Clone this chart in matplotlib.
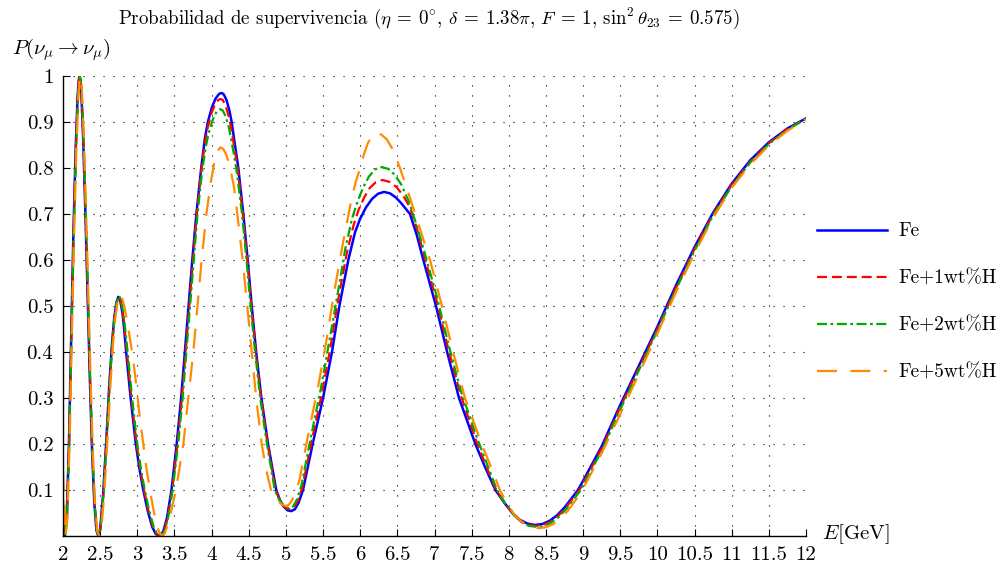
import matplotlib
matplotlib.use("Agg")
import matplotlib.pyplot as plt
import numpy as np

plt.rcParams["font.family"] = ["cmr10", "DejaVu Serif"]
plt.rcParams["mathtext.fontset"] = "cm"
plt.rcParams["axes.formatter.use_mathtext"] = True

# survival probability curves, energy in GeV
e_fe = [2.00, 2.025, 2.05, 2.08, 2.11, 2.14, 2.17, 2.195, 2.208, 2.22, 2.232, 2.245, 2.27, 2.30, 2.33,
        2.36, 2.39, 2.42, 2.45, 2.475, 2.50, 2.54, 2.58, 2.62, 2.66, 2.69, 2.72, 2.745, 2.77, 2.80,
        2.82, 2.85, 2.88, 2.91, 2.945, 2.98, 3.03, 3.08, 3.14, 3.20, 3.25, 3.30, 3.35, 3.40, 3.46,
        3.53, 3.59, 3.64, 3.69, 3.74, 3.795, 3.86, 3.91, 3.95, 4.00, 4.05, 4.10, 4.13, 4.16, 4.20,
        4.24, 4.27, 4.31, 4.36, 4.427, 4.486, 4.54, 4.60, 4.67, 4.76, 4.87, 4.92, 4.97, 5.02, 5.07,
        5.12, 5.17, 5.23, 5.36, 5.50, 5.62, 5.72, 5.84, 5.93, 6.00, 6.08, 6.16, 6.24, 6.32, 6.40,
        6.48, 6.56, 6.67, 6.76, 6.85, 7.02, 7.17, 7.33, 7.55, 7.68, 7.82, 7.95, 8.05, 8.15, 8.25,
        8.35, 8.45, 8.55, 8.65, 8.75, 8.85, 8.93, 9.00, 9.25, 9.50, 9.75, 10.0, 10.25, 10.5, 10.75,
        11.0, 11.25, 11.5, 11.75, 12.0]
p_fe = [0.04, 0.0, 0.04, 0.20, 0.43, 0.66, 0.84, 0.95, 0.985, 1.0, 0.993, 0.97, 0.87, 0.71, 0.53,
        0.35, 0.19, 0.075, 0.012, 0.0, 0.015, 0.09, 0.20, 0.32, 0.42, 0.475, 0.508, 0.52, 0.512, 0.485,
        0.455, 0.40, 0.35, 0.30, 0.25, 0.20, 0.145, 0.10, 0.055, 0.02, 0.004, 0.0, 0.01, 0.04, 0.10,
        0.20, 0.30, 0.40, 0.50, 0.60, 0.70, 0.80, 0.865, 0.90, 0.93, 0.95, 0.961, 0.963, 0.961, 0.948,
        0.925, 0.90, 0.855, 0.80, 0.70, 0.60, 0.50, 0.40, 0.30, 0.20, 0.10, 0.078, 0.064, 0.056, 0.054,
        0.058, 0.072, 0.10, 0.20, 0.30, 0.40, 0.50, 0.60, 0.66, 0.69, 0.715, 0.733, 0.744, 0.748, 0.745,
        0.736, 0.722, 0.70, 0.655, 0.60, 0.50, 0.40, 0.30, 0.20, 0.15, 0.10, 0.07, 0.05, 0.035, 0.027,
        0.024, 0.026, 0.033, 0.045, 0.062, 0.083, 0.10, 0.12, 0.195, 0.285, 0.37, 0.455, 0.545, 0.628, 0.703,
        0.766, 0.817, 0.856, 0.886, 0.908]

e_h1 = [2.00, 2.028, 2.053, 2.083, 2.113, 2.143, 2.173, 2.198, 2.211, 2.223, 2.235, 2.248, 2.273, 2.303,
        2.333, 2.363, 2.393, 2.423, 2.453, 2.478, 2.503, 2.543, 2.583, 2.623, 2.663, 2.693, 2.723, 2.75,
        2.775, 2.805, 2.825, 2.86, 2.89, 2.92, 2.955, 2.99, 3.04, 3.09, 3.15, 3.21, 3.26, 3.31, 3.36,
        3.41, 3.47, 3.54, 3.60, 3.65, 3.70, 3.75, 3.80, 3.86, 3.91, 3.95, 4.00, 4.05, 4.09, 4.12, 4.15,
        4.19, 4.23, 4.26, 4.30, 4.35, 4.42, 4.48, 4.535, 4.595, 4.665, 4.755, 4.86, 4.91, 4.96, 5.01,
        5.06, 5.11, 5.16, 5.22, 5.345, 5.485, 5.60, 5.70, 5.82, 5.91, 5.98, 6.06, 6.13, 6.21, 6.30,
        6.39, 6.48, 6.57, 6.67, 6.76, 6.86, 7.03, 7.18, 7.345, 7.565, 7.70, 7.83, 7.96, 8.06, 8.16,
        8.26, 8.36, 8.46, 8.56, 8.66, 8.76, 8.86, 8.95, 9.00, 9.25, 9.50, 9.75, 10.0, 10.25, 10.5,
        10.75, 11.0, 11.25, 11.5, 11.75, 12.0]
p_h1 = [0.06, 0.0, 0.04, 0.21, 0.44, 0.66, 0.84, 0.95, 0.985, 1.0, 0.993, 0.97, 0.87, 0.71,
        0.53, 0.35, 0.19, 0.075, 0.012, 0.0, 0.015, 0.09, 0.20, 0.32, 0.42, 0.475, 0.509, 0.521,
        0.513, 0.486, 0.458, 0.40, 0.35, 0.30, 0.25, 0.20, 0.145, 0.10, 0.055, 0.02, 0.004, 0.0, 0.01,
        0.04, 0.10, 0.20, 0.30, 0.40, 0.50, 0.60, 0.70, 0.795, 0.855, 0.89, 0.92, 0.94, 0.948, 0.95, 0.948,
        0.935, 0.912, 0.89, 0.85, 0.80, 0.70, 0.60, 0.50, 0.40, 0.30, 0.20, 0.10, 0.08, 0.066, 0.06,
        0.058, 0.062, 0.076, 0.105, 0.205, 0.31, 0.41, 0.51, 0.615, 0.675, 0.71, 0.738, 0.757, 0.769, 0.774,
        0.77, 0.76, 0.742, 0.715, 0.67, 0.61, 0.51, 0.41, 0.31, 0.205, 0.15, 0.10, 0.068, 0.047, 0.032,
        0.025, 0.022, 0.024, 0.031, 0.043, 0.06, 0.081, 0.10, 0.115, 0.19, 0.28, 0.365, 0.45, 0.54, 0.624,
        0.70, 0.763, 0.814, 0.854, 0.885, 0.907]

e_h2 = [2.00, 2.03, 2.055, 2.085, 2.115, 2.145, 2.175, 2.20, 2.213, 2.225, 2.237, 2.25, 2.275, 2.305,
        2.335, 2.365, 2.395, 2.425, 2.455, 2.48, 2.505, 2.545, 2.585, 2.625, 2.665, 2.695, 2.725, 2.755,
        2.78, 2.81, 2.83, 2.87, 2.90, 2.93, 2.965, 3.00, 3.05, 3.10, 3.16, 3.22, 3.27, 3.315, 3.365,
        3.415, 3.475, 3.55, 3.61, 3.66, 3.71, 3.76, 3.81, 3.87, 3.92, 3.96, 4.00, 4.04, 4.08, 4.115,
        4.15, 4.19, 4.23, 4.26, 4.30, 4.34, 4.41, 4.47, 4.525, 4.585, 4.655, 4.745, 4.85, 4.90, 4.95,
        5.00, 5.05, 5.10, 5.15, 5.21, 5.33, 5.47, 5.58, 5.69, 5.80, 5.89, 5.96, 6.04, 6.12, 6.20,
        6.29, 6.38, 6.46, 6.55, 6.66, 6.76, 6.86, 7.04, 7.19, 7.355, 7.58, 7.71, 7.84, 7.97, 8.07,
        8.17, 8.27, 8.37, 8.47, 8.57, 8.67, 8.77, 8.87, 8.97, 9.00, 9.25, 9.50, 9.75, 10.0, 10.25,
        10.5, 10.75, 11.0, 11.25, 11.5, 11.75, 12.0]
p_h2 = [0.08, 0.0, 0.04, 0.21, 0.44, 0.66, 0.84, 0.95, 0.985, 1.0, 0.993, 0.97, 0.87, 0.71,
        0.53, 0.35, 0.19, 0.075, 0.012, 0.0, 0.015, 0.09, 0.20, 0.32, 0.42, 0.475, 0.51, 0.522,
        0.514, 0.487, 0.46, 0.40, 0.35, 0.30, 0.25, 0.20, 0.145, 0.10, 0.055, 0.02, 0.004, 0.0, 0.01,
        0.04, 0.10, 0.20, 0.30, 0.40, 0.50, 0.60, 0.70, 0.79, 0.845, 0.875, 0.898, 0.915, 0.925, 0.928,
        0.925, 0.912, 0.89, 0.865, 0.83, 0.79, 0.70, 0.60, 0.50, 0.40, 0.30, 0.20, 0.10, 0.082, 0.069,
        0.062, 0.06, 0.065, 0.08, 0.11, 0.21, 0.32, 0.42, 0.52, 0.625, 0.69, 0.725, 0.758, 0.782, 0.797,
        0.802, 0.798, 0.786, 0.765, 0.725, 0.675, 0.62, 0.515, 0.415, 0.315, 0.21, 0.155, 0.10, 0.066, 0.045,
        0.03, 0.022, 0.02, 0.022, 0.029, 0.041, 0.058, 0.079, 0.10, 0.11, 0.185, 0.275, 0.36, 0.447, 0.536,
        0.62, 0.697, 0.76, 0.812, 0.852, 0.883, 0.907]

e_h5 = [2.00, 2.035, 2.06, 2.09, 2.12, 2.15, 2.18, 2.205, 2.218, 2.23, 2.242, 2.255, 2.28, 2.31, 2.34,
        2.37, 2.40, 2.43, 2.46, 2.49, 2.515, 2.555, 2.595, 2.635, 2.675, 2.705, 2.735, 2.77, 2.80, 2.83,
        2.87, 2.93, 2.97, 3.005, 3.04, 3.08, 3.12, 3.17, 3.22, 3.27, 3.30, 3.34, 3.37, 3.40, 3.45,
        3.52, 3.62, 3.686, 3.754, 3.81, 3.866, 3.93, 3.99, 4.04, 4.08, 4.12, 4.16, 4.20, 4.25, 4.30,
        4.346, 4.418, 4.48, 4.54, 4.60, 4.674, 4.74, 4.80, 4.85, 4.90, 4.95, 5.00, 5.04, 5.08, 5.13,
        5.18, 5.30, 5.44, 5.55, 5.65, 5.76, 5.88, 5.94, 6.00, 6.05, 6.10, 6.15, 6.21, 6.28, 6.36,
        6.45, 6.535, 6.64, 6.74, 6.94, 7.10, 7.25, 7.41, 7.635, 7.76, 7.88, 7.98, 8.08, 8.18, 8.29,
        8.40, 8.50, 8.60, 8.70, 8.80, 8.90, 8.99, 9.25, 9.50, 9.75, 10.0, 10.25, 10.5, 10.75, 11.0,
        11.25, 11.5, 11.75, 12.0]
p_h5 = [0.14, 0.0, 0.04, 0.21, 0.44, 0.66, 0.84, 0.95, 0.985, 1.0, 0.993, 0.97, 0.87, 0.71, 0.53,
        0.35, 0.19, 0.075, 0.012, 0.0, 0.015, 0.09, 0.20, 0.32, 0.42, 0.475, 0.51, 0.526, 0.515, 0.495,
        0.46, 0.40, 0.35, 0.30, 0.25, 0.20, 0.15, 0.10, 0.055, 0.02, 0.006, 0.0, 0.006, 0.02, 0.05,
        0.10, 0.20, 0.30, 0.40, 0.50, 0.60, 0.70, 0.77, 0.815, 0.837, 0.845, 0.841, 0.828, 0.80, 0.76,
        0.70, 0.60, 0.50, 0.40, 0.30, 0.20, 0.14, 0.10, 0.085, 0.075, 0.068, 0.065, 0.068, 0.077, 0.095,
        0.12, 0.22, 0.33, 0.43, 0.53, 0.63, 0.73, 0.77, 0.80, 0.83, 0.853, 0.868, 0.876, 0.873, 0.862,
        0.837, 0.80, 0.75, 0.70, 0.60, 0.50, 0.40, 0.30, 0.20, 0.15, 0.10, 0.07, 0.045, 0.03, 0.02,
        0.017, 0.019, 0.026, 0.038, 0.056, 0.078, 0.10, 0.18, 0.265, 0.352, 0.44, 0.53, 0.615, 0.692, 0.757,
        0.808, 0.849, 0.881, 0.906]

labels = ["Fe", "Fe+1wt%H", "Fe+2wt%H", "Fe+5wt%H"]
xticks = np.arange(2, 12.01, 0.5)
yticks = np.arange(0.1, 1.01, 0.1)

fig = plt.figure(figsize=(10.07, 5.69), dpi=100)
ax = fig.add_axes([63 / 1007, 1 - 536 / 569, 743 / 1007, 460 / 569])

ax.plot(e_fe, p_fe, color="#0000ff", lw=1.8, label=labels[0])
ax.plot(e_h1, p_h1, color="#ff0000", lw=1.6, ls=(0, (4.5, 2.2)), label=labels[1])
ax.plot(e_h2, p_h2, color="#00aa00", lw=1.6, ls=(0, (4.5, 1.6, 1.2, 1.6)), label=labels[2])
ax.plot(e_h5, p_h5, color="#ff8c00", lw=1.6, ls=(0, (9.0, 6.0)), label=labels[3])

ax.set_xlim(2, 12)
ax.set_ylim(0, 1)
ax.set_xticks(xticks)
ax.set_xticklabels([f"{v:g}" for v in xticks])
ax.set_yticks(yticks)
ax.set_yticklabels([f"{v:.1f}".rstrip("0").rstrip(".") for v in yticks])
ax.tick_params(direction="in", length=5, width=0.8, labelsize=15, pad=7)

ax.grid(True, color="black", lw=0.8, ls=(0, (1, 8)))
ax.spines["top"].set_visible(False)
ax.spines["right"].set_visible(False)
ax.spines["left"].set_linewidth(1.0)
ax.spines["bottom"].set_linewidth(1.0)

fig.text(429 / 1007, 1 - 18 / 569,
         r"Probabilidad de supervivencia ($\eta\:=\:0^{\circ}$, $\delta\:=\:1.38\pi$, $F\:=\:1$, "
         r"$\sin^2\theta_{23}\:=\:0.575$)",
         ha="center", va="center", fontsize=13.6)
fig.text(12 / 1007, 1 - 50 / 569, r"$P(\nu_\mu \rightarrow \nu_\mu)$", ha="left", va="center", fontsize=15)
fig.text(822 / 1007, 1 - 534 / 569, r"$E[\mathrm{GeV}]$", ha="left", va="center", fontsize=15)

fig.legend(loc="center left", bbox_to_anchor=(799 / 1007, 1 - 302 / 569), frameon=False,
           fontsize=14, handlelength=3.6, handletextpad=0.6, labelspacing=1.5)

fig.savefig("out.png", dpi=100)
